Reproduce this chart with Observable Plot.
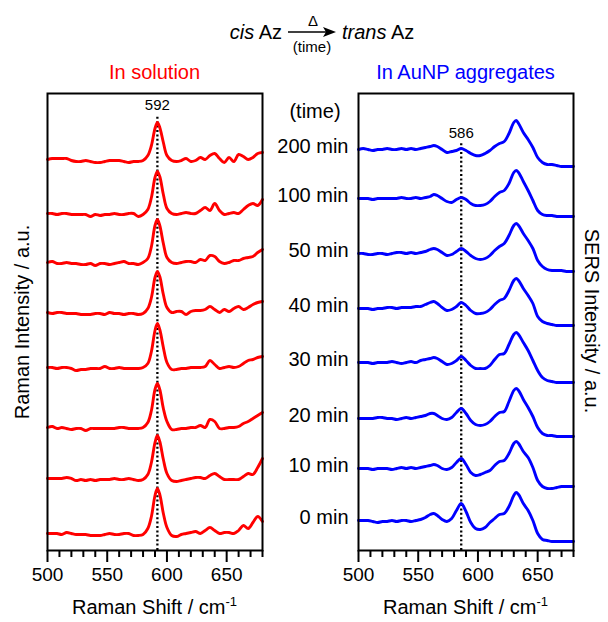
<!DOCTYPE html>
<html><head><meta charset="utf-8">
<script src="https://cdn.jsdelivr.net/npm/d3@7"></script>
<script src="https://cdn.jsdelivr.net/npm/@observablehq/plot@0.6"></script>
<style>
body{margin:0;background:#fff;}
#wrap{position:relative;width:608px;height:622px;font-family:"Liberation Sans",Arial,Helvetica,sans-serif;color:#000;overflow:hidden;}
#wrap svg{position:absolute;left:0;top:0;}
.lbl{position:absolute;white-space:nowrap;font-size:20px;line-height:1;transform:translate(-50%,-50%);}
</style></head><body>
<div id="wrap">
  <div class="lbl" style="left:282px;top:32px;transform:translate(-100%,-50%);"><i>cis</i> Az</div>
  <svg style="left:288px;top:26px;" width="50" height="12" viewBox="0 0 50 12"><line x1="0" y1="6" x2="38" y2="6" stroke="#000" stroke-width="1.6"/><path d="M35,1 L48,6 L35,11 L38,6 Z" fill="#000"/></svg>
  <div class="lbl" style="left:313px;top:20px;font-size:15px;">Δ</div>
  <div class="lbl" style="left:312px;top:46px;font-size:15px;">(time)</div>
  <div class="lbl" style="left:342px;top:32px;transform:translate(0,-50%);"><i>trans</i> Az</div>
  <div class="lbl" style="left:154.5px;top:72px;color:#ff0000;">In solution</div>
  <div class="lbl" style="left:465.5px;top:72px;color:#0000ff;">In AuNP aggregates</div>
  <div class="lbl" style="left:154.5px;top:606px;">Raman Shift / cm<sup style="font-size:13px;">-1</sup></div>
  <div class="lbl" style="left:465.5px;top:606px;">Raman Shift / cm<sup style="font-size:13px;">-1</sup></div>
  <div class="lbl" style="left:22px;top:322px;transform:translate(-50%,-50%) rotate(-90deg);">Raman Intensity / a.u.</div>
  <div class="lbl" style="left:592px;top:321px;transform:translate(-50%,-50%) rotate(90deg);">SERS Intensity / a.u.</div>
</div>
<script>
// ---- data ----
const times = ["200 min","100 min","50 min","40 min","30 min","20 min","10 min","0 min"];
const peakSolution = 592;
const peakAuNP = 586;
const majorTicks = [500, 550, 600, 650];
const minorTicks = [510,520,530,540,560,570,580,590,610,620,630,640,660,670,680];

// vertical stacking offsets (a.u.), same order as times
const offsetsSolution = [391, 337, 288, 238, 183, 123, 72, 17];
const offsetsAuNP = [401, 352, 297, 242, 188, 132, 82, 30];

// Raman shift grid (cm-1)
const shiftSolution = [500,504,508,512,516,520,524,528,532,536,540,544,548,552,556,560,564,568,572,576,580,584,587,590,592,594,597,600,604,608,612,616,620,624,628,632,636,640,644,648,652,656,660,664,668,672,676,680];
const shiftAuNP = [500,504,508,512,516,520,524,528,532,536,540,544,548,552,556,560,563,566,570,574,578,582,586,590,594,598,602,606,610,614,618,622,626,630,632,634,638,642,646,650,654,658,662,666,670,674,678,680];

// In solution (relative intensity above each trace baseline)
const sol200 = [0,1,1,1,1,-1,-2,-2,-1,-2,-3,-3,-2,-1,-1,-1,-2,-3,-2,-2,-1, 4,14,31,37,32,17,4, -1,-2,-1,1,-2,-1,2,0,4,6,1,-3,2,-2,5,3,0,2,6,7];
const sol100 = [0,0,-1,0,0,-1,-1,-1,-1,-3,-1,-2,-1,-1,0,-1,-1,0,0,-3,-1, 4,16,36,42,37,19,5, 0,-1,0,1,0,0,3,6,3,10,3,-1,0,1,0,4,8,10,8,14];
const sol50  = [0,1,-1,-1,0,-1,-1,-2,-2,-1,-3,-1,-1,-2,-1,0,1,-1,-1,-2,0, 4,16,37,43,37,19,5, 0,-1,0,1,1,0,3,2,7,6,1,-1,0,2,2,4,5,6,10,13];
const sol40  = [0,-1,0,0,-1,-1,-1,-2,-2,-2,-1,-1,-2,0,-1,-1,-2,-1,-1,-2,-1, 4,15,35,41,36,18,5, 0,1,1,-2,1,2,2,3,6,3,0,3,1,4,6,3,5,8,10,11];
const sol30  = [0,0,-1,0,0,-1,-3,-2,-2,-1,-1,-1,1,-1,-1,0,-1,-1,-1,-1,0, 4,16,37,44,38,20,5, -2,-2,-1,-1,0,0,0,1,7,3,-1,0,1,0,1,4,7,8,10,11];
const sol20  = [0,1,-1,0,-1,-2,-1,-1,-3,-1,-1,-1,-1,-1,-1,0,0,-1,-1,-1,0, 5,17,38,44,38,19,6, -2,-2,-1,-1,0,0,2,0,8,6,-1,-1,0,0,1,4,6,9,12,15];
const sol10  = [0,0,0,0,1,0,-2,-1,-2,-1,-2,-1,-1,-1,0,-1,-1,0,-1,-2,-1, 4,16,36,43,37,19,5, -2,-3,-2,-1,0,1,1,0,3,5,2,-1,-1,-1,-1,2,5,4,11,20];
const sol0   = [0,0,0,-1,1,0,-1,-1,-1,-2,-2,-2,-1,0,-1,-1,0,0,-2,-2,-1, 5,17,38,45,39,20,6, -2,-3,-1,0,1,2,0,3,6,3,0,1,1,0,3,8,5,11,17,12];

// In AuNP aggregates
const aunp200 = [0,1,0,-1,0,0,1,0,0,1,0,1,0,1,2,3, 4,3,0,-3,-2,-1,1,-1,-4,-6,-6,-4,-1,3,6,8,16,27, 29,26,17,10,2,-8,-13,-15,-15,-16,-17,-17,-17,-17];
const aunp100 = [0,0,0,-1,0,0,0,0,0,1,0,0,1,0,1,2, 4,3,0,-3,-4,-1,1,-1,-5,-7,-7,-6,-3,2,6,8,15,26, 28,26,17,8,-2,-12,-16,-17,-17,-18,-18,-18,-18,-18];
const aunp50  = [0,0,-1,-1,0,0,-1,0,1,1,0,1,0,1,2,4, 5,4,1,-2,-1,2,5,2,-2,-5,-6,-5,-2,3,7,10,18,28, 30,28,20,13,5,-7,-13,-16,-17,-17,-17,-18,-18,-18];
const aunp40  = [0,0,0,-1,0,0,1,1,0,1,1,1,2,2,4,6, 7,5,1,-2,-1,2,6,3,-2,-5,-5,-4,-1,4,8,10,18,28, 30,28,20,13,5,-8,-13,-15,-16,-17,-17,-17,-17,-17];
const aunp30  = [0,0,0,-1,0,0,0,1,0,-1,0,1,0,2,3,4, 5,4,1,-2,-1,2,6,2,-3,-6,-6,-6,-3,3,8,9,18,28, 30,28,20,12,2,-8,-15,-18,-19,-20,-20,-20,-20,-20];
const aunp20  = [0,0,0,0,1,1,0,0,-1,0,1,0,1,2,3,5, 5,3,0,-1,1,6,10,5,-2,-6,-7,-6,-3,2,6,7,17,28, 30,28,19,11,2,-9,-15,-17,-17,-18,-18,-18,-18,-18];
const aunp10  = [0,0,0,-1,0,0,0,-1,0,1,0,1,0,1,2,3, 4,3,0,-1,1,6,10,4,-4,-7,-6,-4,-2,3,7,8,15,25, 27,25,17,11,1,-12,-18,-20,-20,-19,-18,-18,-18,-18];
const aunp0   = [0,0,0,-1,-2,-1,-1,0,-1,0,0,-1,0,1,3,6, 7,5,1,-1,2,10,17,9,-2,-8,-9,-7,-2,2,6,7,14,25, 28,26,17,10,0,-13,-19,-20,-21,-21,-21,-21,-21,-21];

// ---- build tables ----
const solutionSpectra = [sol200, sol100, sol50, sol40, sol30, sol20, sol10, sol0];
const aunpSpectra = [aunp200, aunp100, aunp50, aunp40, aunp30, aunp20, aunp10, aunp0];
const rowsSolution = solutionSpectra.flatMap((s, i) => s.map((v, j) => ({x: shiftSolution[j], y: v + offsetsSolution[i], t: times[i]})));
const rowsAuNP = aunpSpectra.flatMap((s, i) => s.map((v, j) => ({x: shiftAuNP[j], y: v + offsetsAuNP[i], t: times[i]})));
const timeLabels = times.map((t, i) => ({t, y: offsetsAuNP[i] + 3}));

const font = "Liberation Sans, Arial, Helvetica, sans-serif";
const common = {
  width: 608, height: 622, marginTop: 93, marginBottom: 72,
  x: {domain: [500, 680]},
  y: {domain: [0, 457], axis: null},
  style: {background: "transparent", overflow: "visible", fontFamily: font, fontSize: "19px", color: "black"}
};
function axes() {
  return [
    Plot.axisX({ticks: majorTicks, tickSize: 12, tickPadding: 5, strokeWidth: 2, label: null, fontSize: 19}),
    Plot.axisX({ticks: minorTicks, tickSize: 7, strokeWidth: 2, tickFormat: () => "", label: null})
  ];
}

const left = Plot.plot({
  ...common, marginLeft: 47, marginRight: 346,
  marks: [
    Plot.ruleX([peakSolution], {y1: 0, y2: 435, stroke: "black", strokeWidth: 2.3, strokeDasharray: "2,2.4"}),
    Plot.line(rowsSolution, {x: "x", y: "y", z: "t", stroke: "#ff0000", strokeWidth: 2.9, curve: "catmull-rom"}),
    Plot.text([{x: peakSolution, y: 445, s: String(peakSolution)}], {x: "x", y: "y", text: "s", fontSize: 15, fill: "black"}),
    Plot.frame({stroke: "black", strokeWidth: 2}),
    ...axes()
  ]
});

const right = Plot.plot({
  ...common, marginLeft: 358, marginRight: 35,
  marks: [
    Plot.ruleX([peakAuNP], {y1: 0, y2: 408, stroke: "black", strokeWidth: 2.3, strokeDasharray: "2,2.4"}),
    Plot.line(rowsAuNP, {x: "x", y: "y", z: "t", stroke: "#0000ff", strokeWidth: 2.9, curve: "catmull-rom"}),
    Plot.text([{x: peakAuNP, y: 417, s: String(peakAuNP)}], {x: "x", y: "y", text: "s", fontSize: 15, fill: "black"}),
    Plot.text(timeLabels, {y: "y", text: "t", frameAnchor: "left", dx: -10, textAnchor: "end", lineAnchor: "middle", fontSize: 20, fill: "black"}),
    Plot.text(["(time)"], {frameAnchor: "top-left", dx: -43.5, dy: 18, textAnchor: "middle", lineAnchor: "middle", fontSize: 20, fill: "black"}),
    Plot.frame({stroke: "black", strokeWidth: 2}),
    ...axes()
  ]
});

const wrap = document.getElementById("wrap");
wrap.prepend(right);
wrap.prepend(left);
</script>
</body></html>
